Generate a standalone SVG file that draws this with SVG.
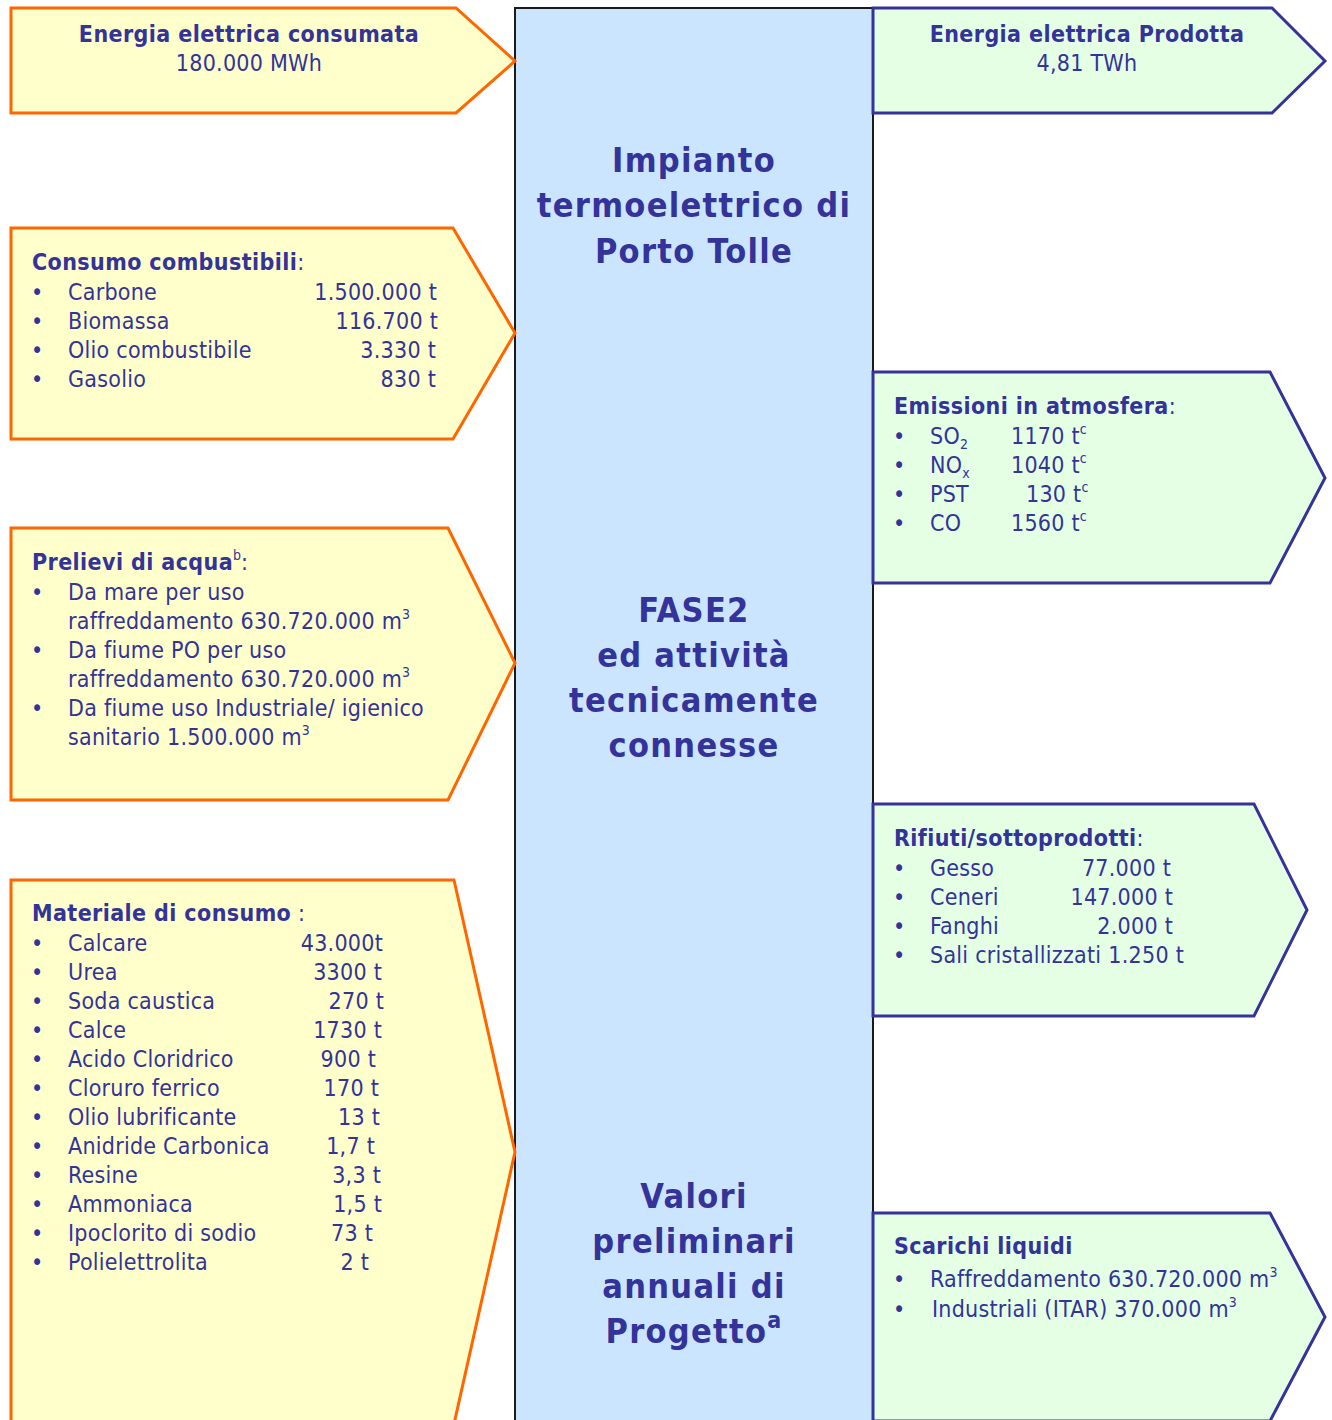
<svg xmlns="http://www.w3.org/2000/svg" width="1332" height="1420" viewBox="0 0 1332 1420">
<style>
text{font-family:"DejaVu Sans Condensed","DejaVu Sans",sans-serif;font-stretch:condensed;fill:#333399;font-size:23px;letter-spacing:0.25px}
.b{font-weight:bold;letter-spacing:0.4px}
.c{font-size:34px;font-weight:bold;text-anchor:middle;letter-spacing:1.3px}
.m{text-anchor:middle}
.e{text-anchor:end}
.in{fill:#FFFFCC;stroke:#FF6600;stroke-width:3}
.out{fill:#E5FFE5;stroke:#333399;stroke-width:3}
.sup{font-size:14px;letter-spacing:0}
</style>
<rect width="1332" height="1420" fill="#ffffff"/>
<g id="center">
<rect x="515" y="8" width="358" height="1430" fill="#CCE5FF" stroke="#1a1a1a" stroke-width="2"/>
<text class="c" x="694" y="172">Impianto</text>
<text class="c" x="694" y="217">termoelettrico di</text>
<text class="c" x="694" y="263">Porto Tolle</text>
<text class="c" x="694" y="622">FASE2</text>
<text class="c" x="694" y="667">ed attività</text>
<text class="c" x="694" y="712">tecnicamente</text>
<text class="c" x="694" y="757">connesse</text>
<text class="c" x="694" y="1208">Valori</text>
<text class="c" x="694" y="1253">preliminari</text>
<text class="c" x="694" y="1298">annuali di</text>
<text class="c" x="694" y="1343">Progetto<tspan font-size="23" dy="-15">a</tspan></text>
</g>
<g id="connectors"></g>
<g id="energia-consumata">
<polygon class="in" points="11,8 456,8 515,61 456,113 11,113"/>
<text class="b m" x="249" y="42">Energia elettrica consumata</text>
<text class="m" x="249" y="71">180.000 MWh</text>
</g>
<g id="energia-prodotta">
<polygon class="out" points="873,8 1272,8 1325,61 1272,113 873,113"/>
<text class="b m" x="1087" y="42">Energia elettrica Prodotta</text>
<text class="m" x="1087" y="71">4,81 TWh</text>
</g>
<g id="combustibili">
<polygon class="in" points="11,228 453,228 515,333 453,439 11,439"/>
<text x="32" y="270"><tspan class="b">Consumo combustibili</tspan>:</text>
<text x="31" y="300">•</text><text x="68" y="300">Carbone</text><text class="e" x="437" y="300">1.500.000 t</text>
<text x="31" y="329">•</text><text x="68" y="329">Biomassa</text><text class="e" x="438" y="329">116.700 t</text>
<text x="31" y="358">•</text><text x="68" y="358">Olio combustibile</text><text class="e" x="436" y="358">3.330 t</text>
<text x="31" y="387">•</text><text x="68" y="387">Gasolio</text><text class="e" x="436" y="387">830 t</text>
</g>
<g id="prelievi">
<polygon class="in" points="11,528 448,528 515,663 448,800 11,800"/>
<text x="32" y="570"><tspan class="b">Prelievi di acqua</tspan><tspan class="sup" dy="-10">b</tspan><tspan dy="10">:</tspan></text>
<text x="31" y="600">•</text><text x="68" y="600">Da mare per uso</text>
<text x="68" y="629">raffreddamento 630.720.000 m<tspan class="sup" dy="-10">3</tspan></text>
<text x="31" y="658">•</text><text x="68" y="658">Da fiume PO per uso</text>
<text x="68" y="687">raffreddamento 630.720.000 m<tspan class="sup" dy="-10">3</tspan></text>
<text x="31" y="716">•</text><text x="68" y="716">Da fiume uso Industriale/ igienico</text>
<text x="68" y="745">sanitario 1.500.000 m<tspan class="sup" dy="-10">3</tspan></text>
</g>
<g id="materiale">
<polygon class="in" points="11,880 454,880 515,1152 454,1424 11,1424"/>
<text x="32" y="921"><tspan class="b">Materiale di consumo</tspan> :</text>
<text x="31" y="951">•</text><text x="68" y="951">Calcare</text><text class="e" x="383" y="951">43.000t</text>
<text x="31" y="980">•</text><text x="68" y="980">Urea</text><text class="e" x="382" y="980">3300 t</text>
<text x="31" y="1009">•</text><text x="68" y="1009">Soda caustica</text><text class="e" x="384" y="1009">270 t</text>
<text x="31" y="1038">•</text><text x="68" y="1038">Calce</text><text class="e" x="382" y="1038">1730 t</text>
<text x="31" y="1067">•</text><text x="68" y="1067">Acido Cloridrico</text><text class="e" x="376" y="1067">900 t</text>
<text x="31" y="1096">•</text><text x="68" y="1096">Cloruro ferrico</text><text class="e" x="379" y="1096">170 t</text>
<text x="31" y="1125">•</text><text x="68" y="1125">Olio lubrificante</text><text class="e" x="380" y="1125">13 t</text>
<text x="31" y="1154">•</text><text x="68" y="1154">Anidride Carbonica</text><text class="e" x="375" y="1154">1,7 t</text>
<text x="31" y="1183">•</text><text x="68" y="1183">Resine</text><text class="e" x="381" y="1183">3,3 t</text>
<text x="31" y="1212">•</text><text x="68" y="1212">Ammoniaca</text><text class="e" x="382" y="1212">1,5 t</text>
<text x="31" y="1241">•</text><text x="68" y="1241">Ipoclorito di sodio</text><text class="e" x="373" y="1241">73 t</text>
<text x="31" y="1270">•</text><text x="68" y="1270">Polielettrolita</text><text class="e" x="369" y="1270">2 t</text>
</g>
<g id="emissioni">
<polygon class="out" points="873,372 1270,372 1325,478 1270,583 873,583"/>
<text x="894" y="414"><tspan class="b">Emissioni in atmosfera</tspan>:</text>
<text x="893" y="444">•</text><text x="930" y="444">SO<tspan class="sup" dy="5">2</tspan></text><text x="1011" y="444">1170 t<tspan class="sup" dy="-10">c</tspan></text>
<text x="893" y="473">•</text><text x="930" y="473">NO<tspan class="sup" dy="5">x</tspan></text><text x="1011" y="473">1040 t<tspan class="sup" dy="-10">c</tspan></text>
<text x="893" y="502">•</text><text x="930" y="502">PST</text><text x="1026" y="502">130 t<tspan class="sup" dy="-10">c</tspan></text>
<text x="893" y="531">•</text><text x="930" y="531">CO</text><text x="1011" y="531">1560 t<tspan class="sup" dy="-10">c</tspan></text>
</g>
<g id="rifiuti">
<polygon class="out" points="873,804 1254,804 1307,910 1254,1016 873,1016"/>
<text x="894" y="846"><tspan class="b">Rifiuti/sottoprodotti</tspan>:</text>
<text x="893" y="876">•</text><text x="930" y="876">Gesso</text><text class="e" x="1171" y="876">77.000 t</text>
<text x="893" y="905">•</text><text x="930" y="905">Ceneri</text><text class="e" x="1173" y="905">147.000 t</text>
<text x="893" y="934">•</text><text x="930" y="934">Fanghi</text><text class="e" x="1173" y="934">2.000 t</text>
<text x="893" y="963">•</text><text x="930" y="963">Sali cristallizzati</text><text class="e" x="1184" y="963">1.250 t</text>
</g>
<g id="scarichi">
<polygon class="out" points="873,1213 1270,1213 1325,1317 1270,1421 873,1421"/>
<text class="b" x="894" y="1254">Scarichi liquidi</text>
<text x="893" y="1287">•</text><text x="930" y="1287">Raffreddamento 630.720.000 m<tspan class="sup" dy="-10">3</tspan></text>
<text x="893" y="1317">•</text><text x="932" y="1317">Industriali (ITAR) 370.000 m<tspan class="sup" dy="-10">3</tspan></text>
</g>
</svg>
